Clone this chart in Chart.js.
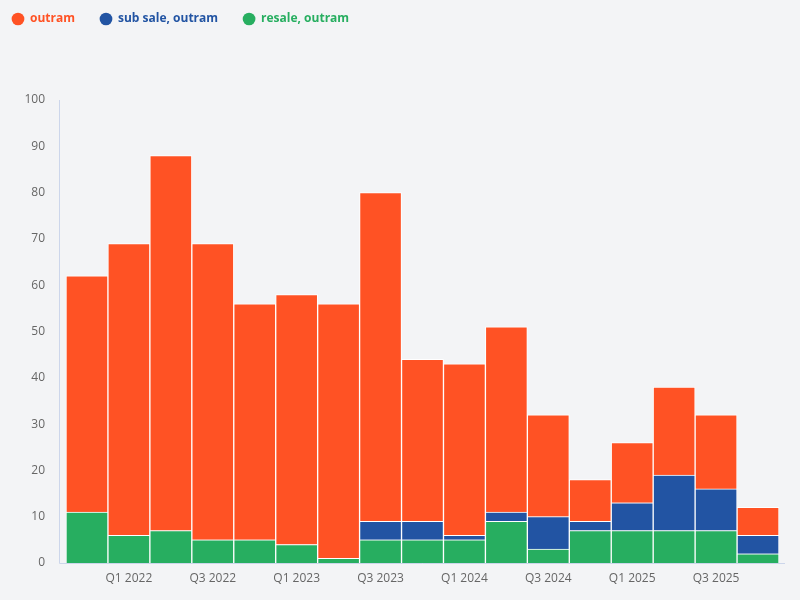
<!DOCTYPE html>
<html>
<head>
    <title>Outram sales by quarter</title>
    <script src="https://cdn.jsdelivr.net/npm/chart.js"></script>
    <style>
        body { margin: 0; background: #f3f4f6; font-family: "Open Sans", sans-serif; }
        #wrap { width: 800px; height: 600px; }
    </style>
</head>
<body>
    <div id="wrap">
        <canvas id="salesChart" width="800" height="600"></canvas>
    </div>

    <script>
        const quarters = ['Q4 2021', 'Q1 2022', 'Q2 2022', 'Q3 2022', 'Q4 2022', 'Q1 2023', 'Q2 2023', 'Q3 2023',
            'Q4 2023', 'Q1 2024', 'Q2 2024', 'Q3 2024', 'Q4 2024', 'Q1 2025', 'Q2 2025', 'Q3 2025', 'Q4 2025'];
        const resale  = [11, 6, 7, 5, 5, 4, 1, 5, 5, 5, 9, 3, 7, 7, 7, 7, 2];
        const subSale = [0, 0, 0, 0, 0, 0, 0, 4, 4, 1, 2, 7, 2, 6, 12, 9, 4];
        const outram  = [51, 63, 81, 64, 51, 54, 55, 71, 35, 37, 40, 22, 9, 13, 19, 16, 6];
        const yTicks  = [0, 10, 20, 30, 40, 50, 60, 70, 80, 90, 100];

        const AXIS_COLOR = '#ccd6eb';
        const TEXT_COLOR = '#666666';
        const PAD_LEFT = -13;   // legend padding is wide, so pull the whole layout left a bit

        // push the plot down below the legend
        const legendMargin = {
            id: 'legendMargin',
            beforeInit(chart) {
                const fit = chart.legend.fit;
                chart.legend.fit = function () {
                    fit.bind(chart.legend)();
                    this.height += 65;
                };
            }
        };

        // axis lines sit a little outside the bars, like the original
        const axisLines = {
            id: 'axisLines',
            beforeDatasetsDraw(chart) {
                const { ctx, chartArea: a } = chart;
                ctx.save();
                ctx.strokeStyle = AXIS_COLOR;
                ctx.lineWidth = 1;
                ctx.beginPath();
                ctx.moveTo(a.left - 6.5, a.top);
                ctx.lineTo(a.left - 6.5, a.bottom + 0.5);
                ctx.lineTo(a.right + 6, a.bottom + 0.5);
                ctx.stroke();
                ctx.restore();
            }
        };

        const ctx = document.getElementById('salesChart').getContext('2d');
        new Chart(ctx, {
            type: 'bar',
            data: {
                labels: quarters,
                datasets: [
                    { label: 'resale, outram', data: resale, backgroundColor: '#27ae60' },
                    { label: 'sub sale, outram', data: subSale, backgroundColor: '#2254a3' },
                    { label: 'outram', data: outram, backgroundColor: '#ff5224' }
                ]
            },
            options: {
                responsive: false,
                animation: false,
                layout: { padding: { left: PAD_LEFT, right: 21, top: -12, bottom: 0 } },
                datasets: {
                    bar: {
                        barPercentage: 1,
                        categoryPercentage: 1,
                        borderColor: '#ffffff',
                        borderWidth: 1
                    }
                },
                plugins: {
                    tooltip: { enabled: false },
                    legend: {
                        position: 'top',
                        align: 'start',
                        reverse: true,
                        labels: {
                            usePointStyle: true,
                            pointStyle: 'circle',
                            boxWidth: 12,
                            boxHeight: 9,
                            padding: 25,
                            font: { family: 'Open Sans', size: 12, weight: 'bold' },
                            generateLabels(chart) {
                                const items = Chart.defaults.plugins.legend.labels.generateLabels(chart);
                                items.forEach(it => {
                                    const ds = chart.data.datasets[it.datasetIndex];
                                    it.fontColor = ds.backgroundColor;
                                    it.strokeStyle = ds.backgroundColor;
                                    it.lineWidth = 0;
                                });
                                return items;
                            }
                        }
                    }
                },
                scales: {
                    x: {
                        stacked: true,
                        grid: { display: false, drawTicks: false },
                        border: { display: false },
                        ticks: {
                            autoSkip: false,
                            maxRotation: 0,
                            padding: 8,
                            color: TEXT_COLOR,
                            font: { family: 'Open Sans', size: 12 },
                            callback: (v, i) => (i % 2 === 1 ? quarters[i] : '')
                        },
                        afterFit(scale) { scale.height = 37; }
                    },
                    y: {
                        stacked: true,
                        min: 0,
                        max: 100,
                        grid: { display: false, drawTicks: false },
                        border: { display: false },
                        afterBuildTicks(scale) { scale.ticks = yTicks.map(v => ({ value: v })); },
                        ticks: {
                            padding: 21,
                            color: TEXT_COLOR,
                            font: { family: 'Open Sans', size: 12 }
                        },
                        afterFit(scale) { scale.width = 66 - PAD_LEFT; }
                    }
                }
            },
            plugins: [legendMargin, axisLines]
        });
    </script>
</body>
</html>
